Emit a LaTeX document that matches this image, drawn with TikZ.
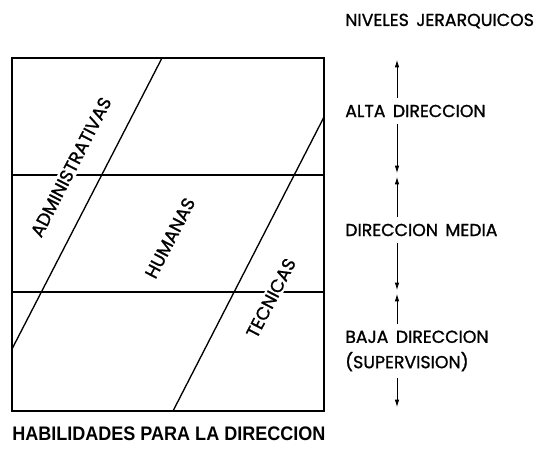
\documentclass[tikz,border=0pt]{standalone}
\usepackage{fontspec}
\newfontfamily\levelfont[FakeBold=1.2, WordSpace=1.6]{Poppins}
\newfontfamily\titlefont[FakeStretch=0.92]{Liberation Sans}
\usetikzlibrary{arrows.meta}
\tikzset{
  frame/.style={line width=1.2pt},
  skill/.style={font=\levelfont\fontsize{13.5}{15}\selectfont, rotate=62.7, inner sep=1.5pt, fill=white},
  level/.style={font=\levelfont\fontsize{13}{19}\selectfont, anchor=west, inner xsep=0pt, inner ysep=5pt, align=left},
  lvlarrow/.style={line width=0.6pt, -{Latex[length=5.5pt,width=3.4pt]}, shorten >=1.5pt}
}

\begin{document}
\begin{tikzpicture}[x=0.75pt, y=-0.75pt]
  \useasboundingbox (0,0) rectangle (535,452);
  % the box with its three bands
  \coordinate (tl) at (12,58);
  \coordinate (br) at (324,411);
  \draw[frame] (tl) rectangle (br);
  \foreach \y [count=\i] in {175, 292} {
    \coordinate (b\i l) at (12,\y);
    \coordinate (b\i r) at (324,\y);
    \draw[frame] (b\i l) -- (b\i r);
  }
  % diagonals
  \coordinate (d1a) at (162,58);
  \coordinate (d1b) at (12,349);
  \coordinate (d2a) at (173,411);
  \coordinate (d2b) at (324,117);
  \draw[line width=1pt] (d1a) -- (d1b);
  \draw[line width=1pt] (d2a) -- (d2b);
  \node[skill] (adm) at (71,167) {ADMINISTRATIVAS};
  \node[skill] (hum) at (170,238) {HUMANAS};
  \node[skill] (tec) at (271,298) {TECNICAS};

  % levels column
  \node[level] (niveles) at (345,21) {NIVELES JERARQUICOS};
  \node[level] (alta) at (345,111) {ALTA DIRECCION};
  \node[level] (media) at (345,230) {DIRECCION MEDIA};
  \node[level] (baja) at (345,351) {BAJA DIRECCION\\(SUPERVISION)};
  \foreach \y [count=\i from 0] in {58, 175, 292, 409} {
    \coordinate (lv\i) at (397,\y);
  }
  \draw[lvlarrow] (alta.north -| lv0) -- (lv0);
  \draw[lvlarrow] (alta.south -| lv1) -- (lv1);
  \draw[lvlarrow] (media.north -| lv1) -- (lv1);
  \draw[lvlarrow] (media.south -| lv2) -- (lv2);
  \draw[lvlarrow] (baja.north -| lv2) -- (lv2);
  \draw[lvlarrow] (baja.south -| lv3) -- (lv3);

  \node[anchor=west, inner sep=0pt, font=\titlefont\bfseries\fontsize{14.7}{16}\selectfont] (habil) at (12,434) {HABILIDADES PARA LA DIRECCION};
\end{tikzpicture}
\end{document}
